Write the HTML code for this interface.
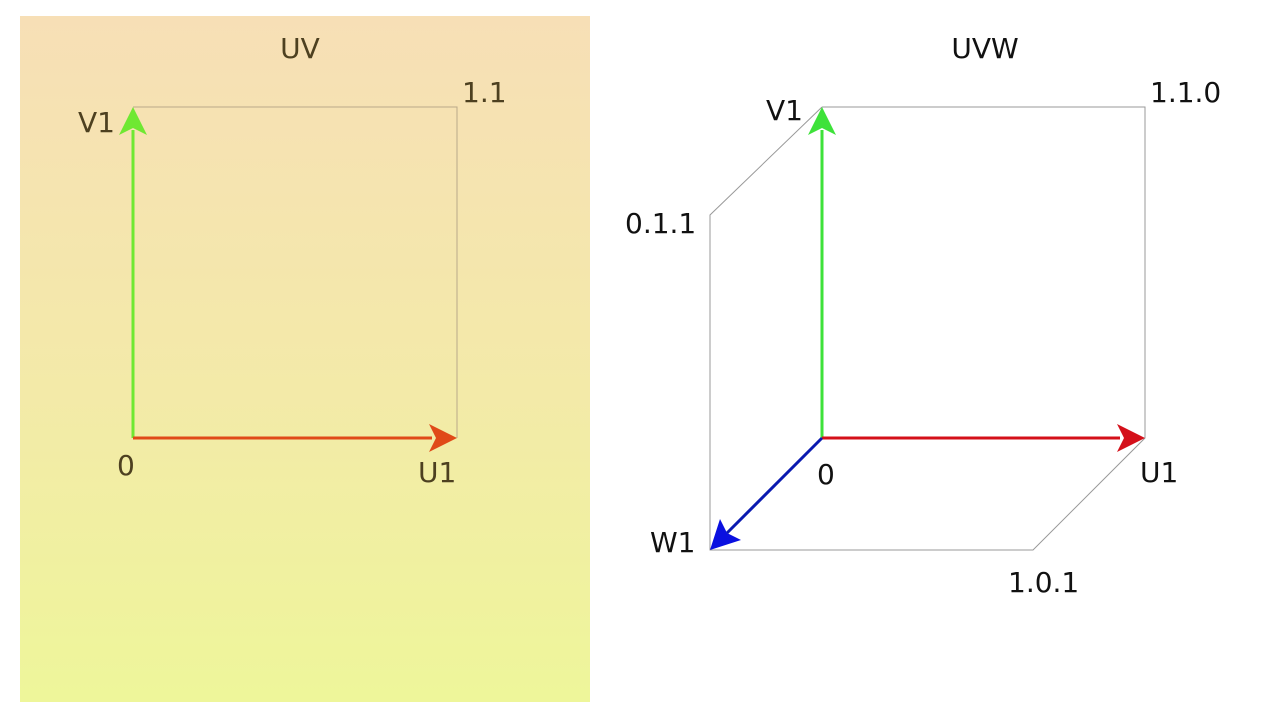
<!DOCTYPE html>
<html><head><meta charset="utf-8"><style>
html,body{margin:0;padding:0;background:#fff;width:1280px;height:720px;overflow:hidden}
#p{position:absolute;left:20px;top:16px;width:570px;height:686px;background:linear-gradient(#f7dfb6,#f3eaa8 55%,#eef69a)}
svg{position:absolute;left:0;top:0}
text{font-family:"DejaVu Sans","Liberation Sans",sans-serif;font-size:28px}
</style></head><body>
<div id="p"></div>
<svg width="1280" height="720">
<g fill="none" stroke-width="1">
<polyline points="133,107 457,107 457,438" stroke="#b9a98a"/>
<polyline points="822,107 1145,107 1145,438 1033,550 710,550 710,215 822,107" stroke="#999"/>
</g>
<line x1="133" y1="438" x2="133" y2="130" stroke="#6fe832" stroke-width="3"/>
<polygon points="133,107 119,135 133,128 147,135" fill="#6fe832"/>
<line x1="133" y1="438" x2="432" y2="438" stroke="#e04a18" stroke-width="3"/>
<polygon points="457,438 429,424 436,438 429,452" fill="#e04a18"/>
<line x1="822" y1="438" x2="822" y2="130" stroke="#3ee23a" stroke-width="3"/>
<polygon points="822,107 808,135 822,128 836,135" fill="#3ee23a"/>
<line x1="822" y1="438" x2="1120" y2="438" stroke="#d4101a" stroke-width="3"/>
<polygon points="1145,438 1117,424 1124,438 1117,452" fill="#d4101a"/>
<line x1="822" y1="438" x2="727" y2="533" stroke="#0a1ab0" stroke-width="3"/>
<polygon points="710,550 720,519 727,533 741,540" fill="#0a10e0"/>
<g fill="#4d4020">
<text x="300" y="58" text-anchor="middle">UV</text>
<text x="462" y="102">1.1</text>
<text x="78" y="132">V1</text>
<text x="117" y="475">0</text>
<text x="418" y="482">U1</text>
</g>
<g fill="#111">
<text x="985" y="58" text-anchor="middle">UVW</text>
<text x="1150" y="102">1.1.0</text>
<text x="766" y="120">V1</text>
<text x="625" y="233">0.1.1</text>
<text x="817" y="484">0</text>
<text x="1140" y="482">U1</text>
<text x="650" y="552">W1</text>
<text x="1008" y="592">1.0.1</text>
</g>
</svg>
</body></html>
